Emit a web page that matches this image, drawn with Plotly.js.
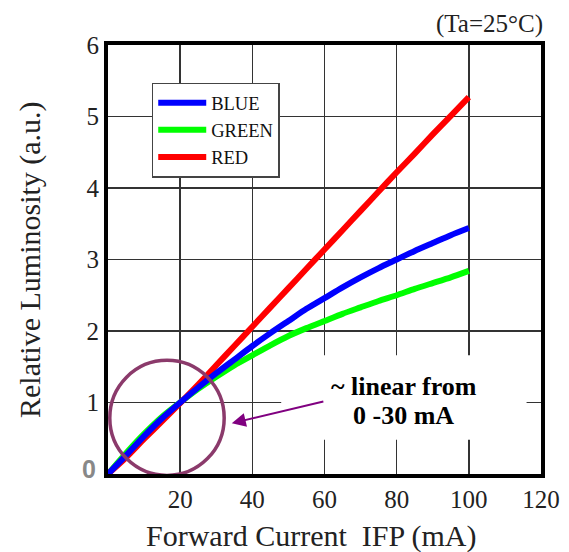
<!DOCTYPE html>
<html>
<head>
<meta charset="utf-8">
<script src="https://cdn.plot.ly/plotly-3.0.1.min.js"></script>
<style>html,body{margin:0;padding:0;background:#fff;}#chart{width:569px;height:552px;}</style>
</head>
<body>
<div id="chart"></div>
<script>
const current  = [0, 5, 10, 15, 20, 25, 30, 35, 40, 45, 50, 55, 60, 65, 70, 75, 80, 85, 90, 95, 100];
const blueLum  = [0, 0.26, 0.53, 0.78, 1.00, 1.21, 1.41, 1.60, 1.79, 1.97, 2.14, 2.31, 2.46, 2.61, 2.75, 2.88, 3.00, 3.12, 3.23, 3.34, 3.44];
const greenLum = [0, 0.29, 0.56, 0.80, 1.00, 1.19, 1.36, 1.52, 1.66, 1.80, 1.93, 2.04, 2.14, 2.24, 2.33, 2.42, 2.50, 2.59, 2.67, 2.75, 2.84];
const redLum   = [0, 0.23, 0.49, 0.74, 0.99, 1.25, 1.52, 1.79, 2.06, 2.33, 2.60, 2.87, 3.14, 3.41, 3.68, 3.95, 4.22, 4.48, 4.75, 5.01, 5.27];
const xTicks = [20, 40, 60, 80, 100, 120];
const yTicks = [1, 2, 3, 4, 5, 6];

const serif = 'Liberation Serif, Times New Roman, serif';

const traces = [
  {x: current, y: greenLum, name: 'GREEN', mode: 'lines', line: {color: '#00ff00', width: 6, shape: 'spline', smoothing: 0.6}, legendrank: 2},
  {x: current, y: redLum, name: 'RED', mode: 'lines', line: {color: '#ff0000', width: 6, shape: 'spline', smoothing: 0.6}, legendrank: 3},
  {x: current, y: blueLum, name: 'BLUE', mode: 'lines', line: {color: '#0000ff', width: 6, shape: 'spline', smoothing: 0.6}, legendrank: 1}
];

const layout = {
  width: 569, height: 552,
  margin: {l: 108, r: 28, t: 45, b: 78},
  paper_bgcolor: '#fff', plot_bgcolor: '#fff',
  showlegend: true,
  legend: {x: 0.101, y: 0.912, xanchor: 'left', yanchor: 'top', bgcolor: '#fff', bordercolor: '#444', borderwidth: 1.5,
           itemwidth: 48, font: {family: serif, size: 18.5, color: '#111'}},
  xaxis: {range: [0, 120], tickvals: xTicks, ticktext: xTicks.map(String), showgrid: true, gridcolor: '#333', gridwidth: 1.5,
          zeroline: false, showline: true, linecolor: '#000', linewidth: 4, mirror: true, ticks: '',
          tickfont: {family: serif, size: 25, color: '#222'}},
  yaxis: {range: [0, 6], tickvals: yTicks, ticktext: yTicks.map(String), showgrid: true, gridcolor: '#333', gridwidth: 1.5,
          zeroline: false, showline: true, linecolor: '#000', linewidth: 4, mirror: true, ticks: '',
          tickfont: {family: serif, size: 25, color: '#222'}},
  shapes: [
    {type: 'rect', xref: 'x', yref: 'y', x0: 48, x1: 116, y0: 0.48, y1: 1.66, fillcolor: '#fff', line: {width: 0}, layer: 'between'},
    {type: 'circle', xref: 'x', yref: 'y', x0: 0.5, x1: 32.2, y0: -0.02, y1: 1.59, line: {color: '#8b3a6b', width: 3.5}, layer: 'above'}
  ],
  annotations: [
    {xref: 'paper', yref: 'paper', x: 0.469, y: -0.145, xanchor: 'center', yanchor: 'middle', showarrow: false,
     text: 'Forward Current\u00a0 IFP (mA)', font: {family: serif, size: 30, color: '#222'}},
    {xref: 'paper', yref: 'paper', x: -0.180, y: 0.499, xanchor: 'center', yanchor: 'middle', showarrow: false, textangle: -90,
     text: 'Relative Luminosity (a.u.)', font: {family: serif, size: 30, color: '#222'}},
    {xref: 'paper', yref: 'paper', x: 1.01, y: 1.05, xanchor: 'right', yanchor: 'middle', showarrow: false,
     text: '(Ta=25°C)', font: {family: serif, size: 25, color: '#222'}},
    {xref: 'paper', yref: 'y', x: 0, y: 0, xshift: -19.5, yshift: 5, xanchor: 'center', yanchor: 'middle', showarrow: false,
     text: '<b>0</b>', font: {family: 'Liberation Sans, Arial, sans-serif', size: 25, color: '#888'}},
    {xref: 'x', yref: 'y', x: 81.9, y: 1.22, showarrow: false, text: '<b>~ linear from</b>',
     font: {family: serif, size: 26, color: '#000'}},
    {xref: 'x', yref: 'y', x: 81.9, y: 0.825, showarrow: false, text: '<b>0 -30 mA</b>',
     font: {family: serif, size: 26, color: '#000'}},
    {xref: 'x', yref: 'y', axref: 'x', ayref: 'y', x: 34.3, y: 0.71, ax: 60.1, ay: 1.02, text: '', showarrow: true,
     arrowhead: 2, arrowsize: 1.4, arrowwidth: 2, arrowcolor: '#800080'}
  ]
};

Plotly.newPlot('chart', traces, layout, {displayModeBar: false, staticPlot: true});
</script>
</body>
</html>
